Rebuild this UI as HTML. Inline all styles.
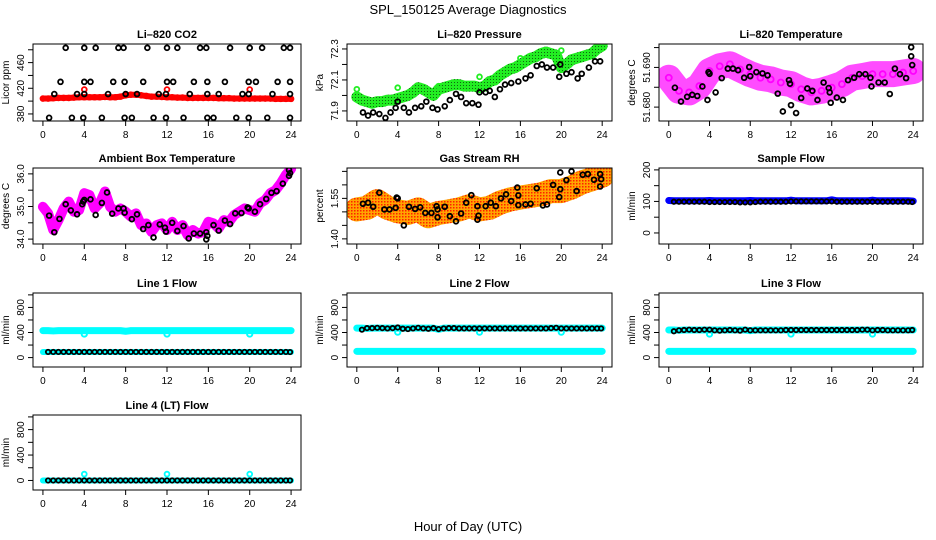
<!DOCTYPE html>
<html><head><meta charset="utf-8"><style>
html,body{margin:0;padding:0;background:#fff}
svg{display:block;font-family:"Liberation Sans",sans-serif}
</style></head><body>
<svg id="c" width="936" height="540" viewBox="0 0 936 540" xmlns="http://www.w3.org/2000/svg">
<defs>
<pattern id="rhpat" width="3" height="3" patternUnits="userSpaceOnUse"><rect width="3" height="3" fill="#FFA500"/><rect x="0" y="0" width="1.5" height="1.5" fill="#FF2000"/></pattern>
<pattern id="grpat" width="3" height="3" patternUnits="userSpaceOnUse"><rect width="3" height="3" fill="#22EE22"/><rect x="1" y="1" width="1" height="1" fill="#116611"/></pattern>
</defs>
<text x="468" y="14" text-anchor="middle" font-size="13">SPL_150125  Average Diagnostics</text>
<text x="468" y="531" text-anchor="middle" font-size="13">Hour of Day (UTC)</text>
</svg>
<script>
const hours = [0,0.5,1,1.5,2,2.5,3,3.5,4,4.5,5,5.5,6,6.5,7,7.5,8,8.5,9,9.5,10,10.5,11,11.5,12,12.5,13,13.5,14,14.5,15,15.5,16,16.5,17,17.5,18,18.5,19,19.5,20,20.5,21,21.5,22,22.5,23,23.5,24];
const hoursHourly = [0,1,2,3,4,5,6,7,8,9,10,11,12,13,14,15,16,17,18,19,20,21,22,23,24];
const blackHours = [0.5,1,1.5,2,2.5,3,3.5,4,4.5,5,5.5,6,6.5,7,7.5,8,8.5,9,9.5,10,10.5,11,11.5,12,12.5,13,13.5,14,14.5,15,15.5,16,16.5,17,17.5,18,18.5,19,19.5,20,20.5,21,21.5,22,22.5,23,23.5,23.9];
const xTicks = [0,4,8,12,16,20,24];

const co2Red = [404,404,404.5,405,405,405,405.5,406,406,406,406,406,406.5,406,406,407,409,410,410,409,408,407,407,406.5,406,406,405.5,405.5,405,405,405,405,405,405,404.5,404.5,404.5,404,404,404,404,404,404,404,404,403.5,403.5,403.5,403.5];
const co2RedOutX = [4,12,20];
const co2RedOutY = [418,418,418];
const co2BlackX = [2.2,4,5.1,7.3,7.8,10.1,12,13,15.2,15.8,18.1,20,21.2,23.3,23.9, 1.7,4,4.6,6.8,7.9,9.7,12,12.6,14.6,15.9,17.6,19.9,20.6,22.7,23.9, 1.1,3.3,4,6.3,8,9.1,11.2,11.9,14.2,15.9,17,19.3,19.9,22.2,23.9, 0.6,2.8,3.9,5.7,7.9,8.6,10.7,11.9,13.6,15.9,16.5,18.7,19.9,21.7,23.9];
const co2BlackY = [483,483,483,483,483,483,483,483,483,483,483,483,483,483,483, 430,430,430,430,430,430,430,430,430,430,430,430,430,430,430, 411,411,411,411,411,411,411,411,411,411,411,411,411,411,411, 374,374,374,374,374,374,374,374,374,374,374,374,374,374,374];

const presGreen = [71.99,71.97,71.96,71.95,71.96,71.96,71.97,71.97,71.98,71.99,72.0,72.02,72.05,72.04,72.02,72.0,72.04,72.05,72.06,72.07,72.07,72.06,72.06,72.06,72.05,72.06,72.09,72.1,72.13,72.15,72.17,72.18,72.2,72.22,72.24,72.25,72.27,72.28,72.27,72.26,72.18,72.2,72.23,72.24,72.25,72.26,72.27,72.3,72.32];
const presOutX = [0,4,8,12,16,20];
const presOutY = [72.04,72.05,72.06,72.12,72.24,72.29];
const presBlackX = [0.6,1.1,1.6,2.2,2.8,3.3,3.8,4,4.6,5.1,5.7,6.3,6.8,7.4,7.9,8.6,9.1,9.7,10.2,10.7,11.3,11.9,12,12.6,13,13.5,14,14.5,15.1,15.8,16.5,17,17.6,18.1,18.6,19.2,19.8,19.9,20.5,21,21.6,22,22.7,23.3,23.8];
const presBlackY = [71.89,71.87,71.89,71.88,71.855,71.89,71.92,71.96,71.92,71.89,71.92,71.93,71.96,71.92,71.91,71.93,71.97,72.01,71.99,71.95,71.95,71.94,72.02,72.02,72.03,71.99,72.04,72.07,72.08,72.09,72.11,72.13,72.19,72.2,72.18,72.18,72.12,72.2,72.14,72.15,72.11,72.14,72.18,72.22,72.22];

const tempMid = [51.6874,51.6841,51.6837,51.6853,51.6891,51.6903,51.6908,51.6895,51.6883,51.6874,51.687,51.6862,51.6858,51.6845,51.6837,51.6841,51.6849,51.6858,51.6874,51.6878,51.6883,51.6883,51.6883,51.6887,51.6891];
const tempBlackX = [0.6,1.2,1.8,2.3,2.8,3.3,3.8,3.9,4,4.6,5.2,5.8,6.3,6.8,7.4,7.9,8,8.6,9.2,9.7,10.7,11.2,11.8,11.9,12,12.5,13,13.6,14.1,14.6,15.2,15.7,15.8,15.9,16.5,17.1,17.6,18.2,18.7,19.3,19.8,19.9,20.6,21.2,21.7,22.2,22.7,23.3,23.8,23.8,23.9];
const tempBlackY = [51.6849,51.6814,51.6826,51.6831,51.6828,51.6852,51.6818,51.6888,51.6884,51.6837,51.6873,51.6897,51.6897,51.6893,51.6874,51.6901,51.6878,51.6888,51.6885,51.688,51.6834,51.6789,51.6868,51.6859,51.6805,51.6785,51.6823,51.6847,51.6841,51.6818,51.6862,51.6848,51.6837,51.6811,51.6824,51.6818,51.6868,51.6874,51.6883,51.6883,51.6874,51.6852,51.6862,51.6862,51.6833,51.6897,51.6883,51.6873,51.6951,51.6928,51.6906];

const ambMag = [34.99,34.79,34.28,34.58,34.94,35.15,34.84,34.89,35.41,35.35,34.94,35.1,35.46,34.99,34.84,34.94,34.84,34.69,34.79,34.43,34.48,34.22,34.43,34.48,34.28,34.53,34.28,34.43,34.12,34.28,34.17,34.22,34.53,34.48,34.33,34.58,34.53,34.74,34.84,34.94,34.89,34.84,35.1,35.2,35.41,35.5,35.71,35.97,36.15];
const ambBlackX = [0.6,1.1,1.6,2.2,2.7,3.3,3.8,3.9,4,4.6,5.1,5.7,6.2,6.7,7.3,7.8,7.9,8.6,9.1,9.7,10.2,10.7,11.3,11.8,11.9,12.5,13,13.6,14.1,14.6,15.2,15.8,15.8,15.9,16.5,17,17.6,18.1,18.6,19.2,19.8,19.9,20.5,21,21.6,22.1,22.6,23.2,23.8,23.8,23.9];
const ambBlackY = [34.72,34.21,34.62,35.07,34.88,34.76,35.07,35.15,35.2,35.22,34.74,35.11,35.43,34.78,34.94,34.94,34.81,34.61,34.76,34.31,34.43,34.05,34.45,34.35,34.23,34.5,34.25,34.4,34.02,34.17,34.17,34.21,33.99,34.1,34.43,34.26,34.57,34.46,34.79,34.8,34.97,34.94,34.84,35.07,35.23,35.42,35.47,35.7,35.94,36.12,36.02];

const rhMid = [1.509,1.515,1.54,1.515,1.502,1.496,1.509,1.484,1.496,1.502,1.509,1.521,1.509,1.515,1.534,1.546,1.553,1.559,1.565,1.577,1.577,1.59,1.609,1.621,1.634];
const rhBlackX = [0.6,1.1,1.6,2.2,2.7,3.2,3.8,3.9,4,4.6,5.1,5.7,6.2,6.7,7.3,7.8,7.9,7.9,8.6,9.1,9.7,10.2,10.7,11.2,11.8,11.8,11.9,12.6,13.1,13.6,14.1,14.6,15.1,15.7,15.8,15.8,16.5,17,17.6,18.2,18.6,19.2,19.8,19.9,19.9,20.5,21,21.5,22.1,22.6,23.2,23.8,23.8,23.9];
const rhBlackY = [1.53,1.534,1.519,1.571,1.509,1.509,1.515,1.553,1.55,1.45,1.519,1.511,1.517,1.496,1.496,1.521,1.48,1.509,1.519,1.484,1.465,1.494,1.534,1.562,1.521,1.471,1.486,1.521,1.534,1.521,1.55,1.565,1.54,1.59,1.561,1.525,1.5275,1.53,1.5875,1.524,1.5275,1.60,1.555,1.646,1.584,1.6175,1.65,1.577,1.6375,1.64,1.619,1.64,1.594,1.621];

const sampleBlue = [103,102,102,102,102,102,102,102,103,102,102,102,102,102,102,102,103,102,102,102,102,102,102,102,104,102,102,102,102,102,102,102,105,102,102,102,102,102,102,102,104,102,102,102,102,102,102,102,101];
const sampleBlack = [99,99,99,99,99,99,99,98,98,98,98,98,98,97,97,97,98,99,99,99,99,99,99,100,100,100,100,100,100,100,100,100,99,99,99,99,99,99,99,99,99,99,99,99,99,99,99,98];
const dipX = [4,12,20];
const line1CyanHi = [430,430,425,430,430,430,430,430,430,430,430,430,430,430,430,430,420,430,430,430,430,430,430,430,430,430,430,430,430,430,430,430,430,430,430,430,430,430,430,430,430,430,430,430,430,430,430,430,430];
const line1Dips = [375,375,375];
const line1CyanLo = [90,90,90,90,90,90,90,90,90,90,90,90,90,90,90,90,90,90,90,90,90,90,90,90,90,90,90,90,90,90,90,90,90,90,90,90,90,90,90,90,90,90,90,90,90,90,90,90,90];
const line1Black = [90,90,90,90,90,90,90,90,90,90,90,90,90,90,90,90,90,90,90,90,90,90,90,90,90,90,90,90,90,90,90,90,90,90,90,90,90,90,90,90,90,90,90,90,90,90,90,88];
const line2CyanHi = [470,470,465,470,470,470,470,470,470,470,470,470,470,470,470,470,450,470,470,470,470,470,470,470,470,470,470,470,470,470,470,470,470,470,470,470,470,470,470,470,470,470,470,470,470,470,470,470,470];
const line2Dips = [405,405,405];
const line2CyanLo = [100,100,100,100,100,100,100,100,100,100,100,100,100,100,100,100,100,100,100,100,100,100,100,100,100,100,100,100,100,100,100,100,100,100,100,100,100,100,100,100,100,100,100,100,100,100,100,100,100];
const line2Black = [445,470,470,475,470,465,470,480,460,455,465,475,465,460,470,455,465,470,470,465,465,465,465,465,465,465,465,465,465,465,465,465,465,465,465,465,465,470,475,465,465,465,465,465,465,465,465,465];
const line3CyanHi = [440,440,435,440,440,440,440,440,440,440,440,440,440,440,440,440,430,440,440,440,440,440,440,440,440,440,440,440,440,440,440,440,440,440,440,440,440,440,440,440,440,440,440,440,440,440,440,440,440];
const line3Dips = [375,375,375];
const line3CyanLo = [100,100,100,100,100,100,100,100,100,100,100,100,100,100,100,100,100,100,100,100,100,100,100,100,100,100,100,100,100,100,100,100,100,100,100,100,100,100,100,100,100,100,100,100,100,100,100,100,100];
const line3Black = [420,435,440,445,440,440,445,445,435,430,435,440,435,430,445,435,435,435,435,435,435,435,440,440,440,440,440,440,440,440,440,440,440,440,440,440,440,445,445,435,440,440,435,435,435,435,435,440];
const line4Cyan = [0,0,0,0,0,0,0,0,0,0,0,0,0,0,0,0,0,0,0,0,0,0,0,0,0,0,0,0,0,0,0,0,0,0,0,0,0,0,0,0,0,0,0,0,0,0,0,0,0];
const line4OutX = [4,12,20];
const line4OutY = [100,100,100];
const line4Black = [0,0,0,0,0,0,0,0,0,0,0,0,0,0,0,0,0,0,0,0,0,0,0,0,0,0,0,0,0,0,0,0,0,0,0,0,0,0,0,0,0,0,0,0,0,0,0,0];

const co2Ticks = [380,400,420,440,460,480], co2Labels = ["380","","420","","460",""];
const presTicks = [71.9,72.0,72.1,72.2,72.3], presLabels = ["71.9","","72.1","","72.3"];
const tempTicks = [51.680,51.685,51.690,51.695], tempLabels = ["51.680","","51.690",""];
const ambTicks = [34.0,34.5,35.0,35.5,36.0], ambLabels = ["34.0","","35.0","","36.0"];
const rhTicks = [1.40,1.45,1.50,1.55,1.60,1.65], rhLabels = ["1.40","","","1.55","",""];
const sampTicks = [0,50,100,150,200], sampLabels = ["0","","100","","200"];
const flowTicks = [0,200,400,600,800,1000], flowLabels = ["0","","400","","800",""];

const NS = "http://www.w3.org/2000/svg";
const svg = document.getElementById('c');
function mk(tag, attrs, parent){ const e=document.createElementNS(NS,tag); for(const k in attrs) e.setAttribute(k,attrs[k]); (parent||svg).appendChild(e); return e; }

const cols = [[33,301],[347,612],[659,923]];
const rows = [[44,121],[168,244],[293,367],[415,490]];

function panel(name, col, row, title, ylab, ylim, yt, yl){
  const [L,R]=cols[col], [T,B]=rows[row];
  const g = mk('g',{});
  
  
  const xs = v => L + (v+0.96)/25.92*(R-L);
  const ys = v => B - (v-ylim[0])/(ylim[1]-ylim[0])*(B-T);
  const t = mk('text',{x:(L+R)/2,y:T-6,'text-anchor':'middle','font-size':11,'font-weight':'bold'},g);
  t.textContent=title;
  
  
  const yt2 = mk('text',{transform:`translate(${L-24},${(T+B)/2}) rotate(-90)`,'text-anchor':'middle','font-size':10},g);
  yt2.textContent=ylab;
  
  
  const ax = mk('g',{stroke:'#000','stroke-width':1},g);
  
  
  xTicks.forEach(v=>{
    const x=xs(v);
    mk('line',{x1:x,x2:x,y1:B,y2:B+5},ax);
    const tl=mk('text',{x:x,y:B+17,'text-anchor':'middle','font-size':10,stroke:'none'},ax);
    tl.textContent=v;
    
    
  });
  const ay = mk('g',{stroke:'#000','stroke-width':1},g);
  
  
  yt.forEach((v,i)=>{
    const y=ys(v);
    mk('line',{x1:L-5,x2:L,y1:y,y2:y},ay);
    if(yl[i]){
      const tl=mk('text',{transform:`translate(${L-9},${y}) rotate(-90)`,'text-anchor':'middle','font-size':10,stroke:'none'},ay);
      tl.textContent=yl[i];
      
      
    }
  });
  const clip = 'clip-'+name;
  const cp = mk('clipPath',{id:clip},g); mk('rect',{x:L,y:T,width:R-L,height:B-T},cp);
  const plot = mk('g',{'clip-path':`url(#${clip})`},g);
  const fr = mk('rect',{x:L,y:T,width:R-L,height:B-T,fill:'none',stroke:'#000','stroke-width':1},g);
  
  
  return {xs,ys,plot};
}
function band(p, name, X, Y, color, w, op){
  const pts = X.map((x,i)=>p.xs(x)+','+p.ys(Y[i])).join(' ');
  const pl = mk('polyline',{points:pts,fill:'none',stroke:color,'stroke-width':w,'stroke-linejoin':'round','stroke-linecap':'round',opacity:op||1},p.plot);
  
  
}
function pts(p, name, X, Y, color, r, sw){
  const g = mk('g',{fill:'none',stroke:color,'stroke-width':sw||1.8},p.plot);
  
  
  X.forEach((x,i)=>{
    const c = mk('circle',{cx:p.xs(x),cy:p.ys(Y[i]),r:r||2.4},g);
    
    
  });
}

let p;
p = panel('co2',0,0,'Li–820 CO2','Licor ppm',[369,489],co2Ticks,co2Labels);
band(p,'co2-red-band',hours,co2Red,'#FF0000',6);
pts(p,'co2-red-series',hours,co2Red,'#FF0000');
pts(p,'co2-red-outliers',co2RedOutX,co2RedOutY,'#FF0000');
pts(p,'co2-black-series',co2BlackX,co2BlackY,'#000');

p = panel('pressure',1,0,'Li–820 Pressure','kPa',[71.835,72.332],presTicks,presLabels);
band(p,'pressure-green-band',hours,presGreen,'url(#grpat)',11);
pts(p,'pressure-green-outliers',presOutX,presOutY,'#22EE22');
pts(p,'pressure-black-series',presBlackX,presBlackY,'#000');

p = panel('li820-temp',2,0,'Li–820 Temperature','degrees C',[51.6765,51.6959],tempTicks,tempLabels);
band(p,'temp-magenta-band',hoursHourly,tempMid,'#FF00FF',26,0.7);
pts(p,'temp-magenta-series',hoursHourly,tempMid,'#FF00FF',3);
pts(p,'temp-black-series',tempBlackX,tempBlackY,'#000');

p = panel('ambient',0,1,'Ambient Box Temperature','degrees C',[33.85,36.18],ambTicks,ambLabels);
band(p,'ambient-magenta-band',hours,ambMag,'#FF00FF',10);
pts(p,'ambient-black-series',ambBlackX,ambBlackY,'#000');

p = panel('rh',1,1,'Gas Stream RH','percent',[1.381,1.6625],rhTicks,rhLabels);
band(p,'rh-orange-band',hoursHourly,rhMid,'url(#rhpat)',24);
pts(p,'rh-black-series',rhBlackX,rhBlackY,'#000');

p = panel('sample-flow',2,1,'Sample Flow','ml/min',[-35,206],sampTicks,sampLabels);
band(p,'sample-blue-band',hours,sampleBlue,'#0000FF',7);
pts(p,'sample-black-series',blackHours,sampleBlack,'#000',2.2);

p = panel('line1',0,2,'Line 1 Flow','ml/min',[-150,1030],flowTicks,flowLabels);
band(p,'line1-cyan-high',hours,line1CyanHi,'#00FFFF',7);
pts(p,'line1-cyan-dips',dipX,line1Dips,'#00FFFF',2.6,2);
band(p,'line1-cyan-low',hours,line1CyanLo,'#00FFFF',6);
pts(p,'line1-black-series',blackHours,line1Black,'#000',2.2);

p = panel('line2',1,2,'Line 2 Flow','ml/min',[-150,1030],flowTicks,flowLabels);
band(p,'line2-cyan-high',hours,line2CyanHi,'#00FFFF',7);
pts(p,'line2-cyan-dips',dipX,line2Dips,'#00FFFF',2.6,2);
band(p,'line2-cyan-low',hours,line2CyanLo,'#00FFFF',7);
pts(p,'line2-black-series',blackHours,line2Black,'#000',2.2);

p = panel('line3',2,2,'Line 3 Flow','ml/min',[-150,1030],flowTicks,flowLabels);
band(p,'line3-cyan-high',hours,line3CyanHi,'#00FFFF',7);
pts(p,'line3-cyan-dips',dipX,line3Dips,'#00FFFF',2.6,2);
band(p,'line3-cyan-low',hours,line3CyanLo,'#00FFFF',7);
pts(p,'line3-black-series',blackHours,line3Black,'#000',2.2);

p = panel('line4',0,3,'Line 4 (LT) Flow','ml/min',[-150,1030],flowTicks,flowLabels);
band(p,'line4-cyan',hours,line4Cyan,'#00FFFF',6);
pts(p,'line4-cyan-outliers',line4OutX,line4OutY,'#00FFFF');
pts(p,'line4-black-series',blackHours,line4Black,'#000',2.2);
</script>
</body></html>
